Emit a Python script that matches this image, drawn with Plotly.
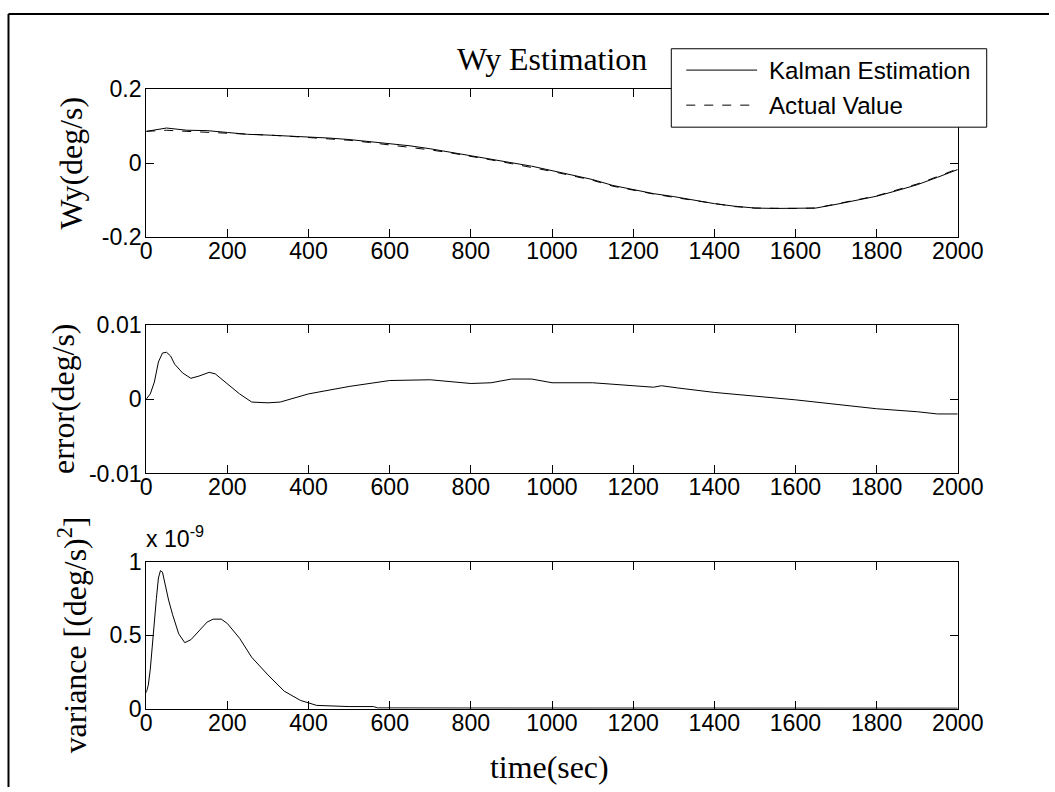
import plotly.graph_objects as go

# ---- data -------------------------------------------------------------
series_names = ["Kalman Estimation", "Actual Value"]

t_wy = [0, 50, 100, 150, 200, 250, 300, 350, 400, 450, 500, 550, 600, 650,
        700, 750, 800, 850, 900, 950, 1000, 1050, 1100, 1150, 1200, 1250,
        1300, 1350, 1400, 1450, 1500, 1550, 1600, 1650, 1700, 1750, 1800,
        1850, 1900, 1950, 2000]
wy_actual = [0.086, 0.089, 0.086, 0.084, 0.081, 0.078, 0.076, 0.073, 0.070,
             0.066, 0.062, 0.056, 0.050, 0.044, 0.036, 0.028, 0.019, 0.009,
             -0.001, -0.011, -0.022, -0.034, -0.046, -0.062, -0.073, -0.083,
             -0.092, -0.101, -0.110, -0.117, -0.121, -0.122, -0.122, -0.121,
             -0.110, -0.099, -0.088, -0.072, -0.056, -0.036, -0.015]
wy_kalman = [0.086, 0.095, 0.089, 0.088, 0.083, 0.078, 0.076, 0.074, 0.071,
             0.068, 0.064, 0.059, 0.052, 0.047, 0.039, 0.030, 0.021, 0.011,
             0.002, -0.008, -0.020, -0.032, -0.044, -0.060, -0.071, -0.082,
             -0.090, -0.100, -0.109, -0.116, -0.121, -0.122, -0.122, -0.121,
             -0.111, -0.100, -0.089, -0.074, -0.058, -0.038, -0.017]

t_err = [0, 10, 20, 30, 40, 50, 60, 70, 90, 110, 130, 155, 170, 200, 230,
         260, 300, 330, 400, 500, 600, 700, 800, 850, 900, 950, 1000, 1100,
         1200, 1250, 1270, 1290, 1310, 1400, 1500, 1600, 1700, 1800, 1900,
         1950, 2000]
err = [0.0, 0.0007, 0.0023, 0.0050, 0.0062, 0.0063, 0.0058, 0.0047, 0.0035,
       0.0028, 0.0031, 0.0036, 0.0034, 0.0020, 0.0007, -0.0004, -0.0005,
       -0.0004, 0.0007, 0.0017, 0.0025, 0.0026, 0.0021, 0.0022, 0.0027,
       0.0027, 0.0022, 0.0022, 0.0018, 0.0016, 0.0018, 0.0017, 0.0015,
       0.0009, 0.00045, -0.0001, -0.0007, -0.0013, -0.0017, -0.0020, -0.0020]

t_var = [0, 5, 10, 15, 20, 25, 30, 35, 40, 45, 55, 65, 80, 95, 110, 130, 150,
         165, 185, 200, 230, 260, 300, 340, 380, 420, 500, 560, 570, 800,
         1200, 1600, 2000]
var = [0.11e-9, 0.16e-9, 0.27e-9, 0.45e-9, 0.59e-9, 0.75e-9, 0.89e-9,
       0.94e-9, 0.93e-9, 0.86e-9, 0.74e-9, 0.64e-9, 0.51e-9, 0.45e-9,
       0.47e-9, 0.53e-9, 0.59e-9, 0.61e-9, 0.61e-9, 0.58e-9, 0.48e-9,
       0.35e-9, 0.23e-9, 0.12e-9, 0.057e-9, 0.023e-9, 0.015e-9, 0.015e-9,
       0.006e-9, 0.005e-9, 0.004e-9, 0.004e-9, 0.004e-9]

x_ticks = [0, 200, 400, 600, 800, 1000, 1200, 1400, 1600, 1800, 2000]
wy_ticks = [-0.2, 0, 0.2]
wy_tick_text = ["-0.2", "0", "0.2"]
err_ticks = [-0.01, 0, 0.01]
err_tick_text = ["-0.01", "0", "0.01"]
var_ticks = [0, 0.5e-9, 1e-9]
var_tick_text = ["0", "0.5", "1"]

# ---- page geometry ----------------------------------------------------
# The figure is shown slightly zoomed out and offset inside the page;
# positions below are given in on-screen pixels and converted to figure
# pixels with these factors.
SX, OX = 0.972, 4.5
SY, OY = 0.966, 12.0
W, H = 1075, 800
SANS = "Liberation Sans, Arial, Helvetica, sans-serif"
SERIF = "Liberation Serif, Times New Roman, serif"


def px_x(p):
    return ((p - OX) / SX) / W


def px_y(p):
    return 1 - ((p - OY) / SY) / H


def fs(size):
    return size / SX


axis_common = dict(
    showline=True, linecolor="black", linewidth=1, mirror="ticks",
    ticks="inside", ticklen=fs(8), tickwidth=1, tickcolor="black",
    showgrid=False, zeroline=False,
    tickfont=dict(family=SANS, size=fs(22.5), color="black"),
)

x_dom = [px_x(145), px_x(958)]
panels = [(88, 236), (323.3, 471.7), (560, 706.7)]

fig = go.Figure()

fig.add_trace(go.Scatter(x=t_wy, y=wy_kalman, mode="lines", name=series_names[0],
                         line=dict(color="black", width=1),
                         xaxis="x", yaxis="y"))
fig.add_trace(go.Scatter(x=t_wy, y=wy_actual, mode="lines", name=series_names[1],
                         line=dict(color="black", width=1, dash="dash"),
                         xaxis="x", yaxis="y"))
fig.add_trace(go.Scatter(x=t_err, y=err, mode="lines",
                         line=dict(color="black", width=1),
                         xaxis="x2", yaxis="y2"))
fig.add_trace(go.Scatter(x=t_var, y=var, mode="lines",
                         line=dict(color="black", width=1),
                         xaxis="x3", yaxis="y3"))

layout = dict(
    width=W, height=H, autosize=False,
    margin=dict(l=0, r=0, t=0, b=0),
    paper_bgcolor="white", plot_bgcolor="white",
    showlegend=False,
)
y_specs = [
    ([-0.2, 0.2], wy_ticks, wy_tick_text),
    ([-0.01, 0.01], err_ticks, err_tick_text),
    ([0, 1e-9], var_ticks, var_tick_text),
]
for i, ((top, bot), (rng, tv, tt)) in enumerate(zip(panels, y_specs)):
    sfx = "" if i == 0 else str(i + 1)
    layout["xaxis" + sfx] = dict(axis_common, domain=x_dom, range=[0, 2000],
                                 tickvals=x_ticks, anchor="y" + sfx,
                                 ticklabelstandoff=-7)
    layout["yaxis" + sfx] = dict(axis_common, domain=[px_y(bot), px_y(top)],
                                 range=rng, tickvals=tv, ticktext=tt,
                                 anchor="x" + sfx, ticklabelstandoff=-1)
fig.update_layout(**layout)

ann = []
serif_font = dict(family=SERIF, size=fs(31), color="black")
# title and axis labels
ann.append(dict(x=px_x(551.5), y=px_y(58), text="Wy Estimation", font=serif_font))
ann.append(dict(x=px_x(549), y=px_y(765), text="time(sec)", font=serif_font))
ann.append(dict(x=px_x(70), y=px_y(162), text="Wy(deg/s)", textangle=-90,
                font=serif_font))
ann.append(dict(x=px_x(62), y=px_y(397), text="error(deg/s)", textangle=-90,
                font=serif_font))
ann.append(dict(x=px_x(71), y=px_y(633), text="variance [(deg/s)<sup>2</sup>]",
                textangle=-90, font=serif_font))
ann.append(dict(x=px_x(143), y=px_y(535), xanchor="left",
                text="x 10<sup>-9</sup>",
                font=dict(family=SANS, size=fs(22.5), color="black")))

# legend box
lx0, lx1, ly0, ly1 = 671, 987, 47.7, 126
rows = [69, 104]
dashes = ["solid", "dash"]
shapes = [
    dict(type="rect", xref="paper", yref="paper", layer="above",
         x0=px_x(lx0), x1=px_x(lx1), y0=px_y(ly1), y1=px_y(ly0),
         fillcolor="white", line=dict(color="black", width=1)),
]
for name, ry, dsh in zip(series_names, rows, dashes):
    shapes.append(dict(type="line", xref="paper", yref="paper", layer="above",
                       x0=px_x(686), x1=px_x(757), y0=px_y(ry), y1=px_y(ry),
                       line=dict(color="black", width=1, dash=dsh)))
    ann.append(dict(x=px_x(767), y=px_y(ry), xanchor="left",
                    text=name, font=dict(family=SANS, size=fs(23.5), color="black")))

# outer frame: left and top edges
fx0 = max(px_x(7), 1 / W)
fy0 = min(px_y(7), 1 - 1 / H)
shapes.append(dict(type="line", xref="paper", yref="paper", layer="above",
                   x0=fx0, x1=1, y0=fy0, y1=fy0,
                   line=dict(color="black", width=2)))
shapes.append(dict(type="line", xref="paper", yref="paper", layer="above",
                   x0=fx0, x1=fx0, y0=0, y1=fy0,
                   line=dict(color="black", width=2)))

for a in ann:
    a.setdefault("xref", "paper")
    a.setdefault("yref", "paper")
    a.setdefault("showarrow", False)
    a.setdefault("xanchor", "center")
    a.setdefault("yanchor", "middle")
fig.update_layout(annotations=ann, shapes=shapes)

fig.write_html("out.html")
